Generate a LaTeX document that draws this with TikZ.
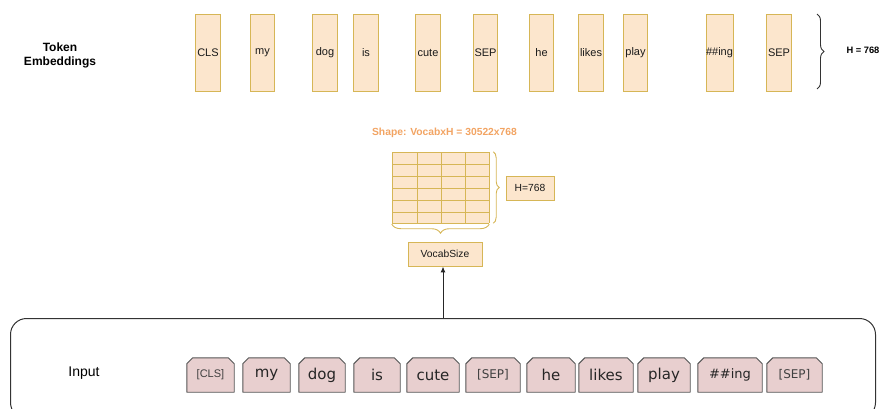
\documentclass[tikz,border=0pt]{standalone}
\usepackage{fontspec}
\setmainfont{Liberation Sans}
\newfontfamily\tokfont{DejaVu Sans}
\usetikzlibrary{decorations.pathreplacing,arrows.meta,backgrounds}

\definecolor{peach}{HTML}{FCE6CD}
\definecolor{gold}{HTML}{D6B656}
\definecolor{rose}{HTML}{E8CFCF}
\definecolor{edgegray}{HTML}{555555}
\definecolor{shapeorange}{HTML}{F2A463}
\definecolor{inktext}{HTML}{1A1A1A}

\tikzset{
  embbox/.style={draw=gold, fill=peach, line width=0.9pt, minimum width=24.5pt,
    minimum height=77pt, inner sep=0pt, font=\fontsize{11}{13}\selectfont, text=inktext},
  labelbox/.style={draw=gold, fill=peach, line width=0.9pt, minimum height=24pt,
    inner sep=0pt, font=\fontsize{10.3}{12}\selectfont, text=inktext},
  intok/.style={minimum height=34pt, inner sep=0pt,
    font=\tokfont\fontsize{15}{17}\selectfont, text=black!85},
  smalltok/.style={intok, font=\tokfont\fontsize{12}{14}\selectfont, text=black!75},
  tokoutline/.style={draw=edgegray, fill=rose, line width=0.9pt, line join=round},
  gridline/.style={gold, line width=0.9pt},
  goldbrace/.style={gold, line width=0.9pt, decorate, decoration={brace, amplitude=6pt}},
}

\begin{document}
\begin{tikzpicture}[x=1pt, y=-1pt]
\useasboundingbox (0,0) rectangle (880,408);
\clip (0,0) rectangle (880,408);

% row label
\node[font=\bfseries\fontsize{12}{14}\selectfont, align=center] (title) at (60,55) {Token\\Embeddings};

% token embedding columns
\foreach \n/\x/\t in {e1/208/CLS, e2/262.5/my, e3/325/dog, e4/366/is, e5/428/cute,
    e6/485.5/SEP, e7/541.5/he, e8/591/likes, e9/635.5/play, e10/719.5/\#\#ing, e11/779/SEP}
  \node[embbox] (\n) at (\x,52.5) {\t};

% hidden-size brace
\draw[black!80, line width=0.9pt, decorate, decoration={brace, amplitude=7pt}]
  (817,14) -- (817,89) coordinate[midway] (hb);
\node[anchor=west, font=\bfseries\fontsize{9.3}{11}\selectfont] (hlabel) at (843,50) {H = 768};

% embedding matrix
\node[shapeorange, font=\bfseries\fontsize{10.3}{12}\selectfont] (shape) at (444.5,133) {Shape: VocabxH = 30522x768};
\node[fill=peach, draw=none, minimum width=97pt, minimum height=71pt, inner sep=0pt] (mat) at (440.5,187.5) {};
\foreach \y in {152,164,176,188,200,212,223}
  \draw[gridline] (392,\y) -- (489,\y);
\foreach \x in {392,417,441,465,489}
  \draw[gridline] (\x,152) -- (\x,223);

\draw[goldbrace] ([xshift=4pt]mat.north east) -- ([xshift=4pt]mat.south east);
\draw[goldbrace, decoration={brace, amplitude=9pt}] ([yshift=-1pt]mat.south east) -- ([yshift=-1pt]mat.south west);
\node[labelbox, minimum width=48pt] (hbox) at (530,188) {H=768};
\node[labelbox, minimum width=74pt] (vocab) at (445,254) {VocabSize};

% input container
\node[draw=black!80, line width=1pt, rounded corners=16pt, minimum width=865pt,
  minimum height=100pt, anchor=north west, inner sep=0pt] (cont) at (10,318) {};
\node[font=\fontsize{14}{16}\selectfont] (inlabel) at (84,373) {Input};

\draw[black!85, line width=1pt, -{Latex[length=6pt,width=5pt]}] (cont.north) -- (cont.north |- vocab.south);

% input tokens
\node[smalltok, minimum width=47pt, font=\fontsize{11}{13}\selectfont] (t1) at (210.5,375) {[CLS]};
\node[intok, minimum width=47pt] (t2) at (266.5,375) {my};
\node[intok, minimum width=46pt] (t3) at (322,375) {dog};
\node[intok, minimum width=46pt] (t4) at (377,375) {is};
\node[intok, minimum width=52pt] (t5) at (433,375) {cute};
\node[smalltok, minimum width=54pt] (t6) at (493,375) {[SEP]};
\node[intok, minimum width=48pt] (t7) at (551,375) {he};
\node[intok, minimum width=54pt] (t8) at (606,375) {likes};
\node[intok, minimum width=52pt] (t9) at (664,375) {play};
\node[intok, minimum width=64pt, font=\tokfont\fontsize{13}{15}\selectfont] (t10) at (730,375) {\#\#ing};
\node[smalltok, minimum width=55pt] (t11) at (794.5,375) {[SEP]};

% token outlines with cut top corners
\begin{scope}[on background layer]
  \foreach \t in {t1,t2,t3,t4,t5,t6,t7,t8,t9,t10,t11}
    \draw[tokoutline] (\t.south west) -- ([yshift=-6pt]\t.north west)
      -- ([xshift=6pt]\t.north west) -- ([xshift=-6pt]\t.north east)
      -- ([yshift=-6pt]\t.north east) -- (\t.south east) -- cycle;
\end{scope}
\end{tikzpicture}
\end{document}
